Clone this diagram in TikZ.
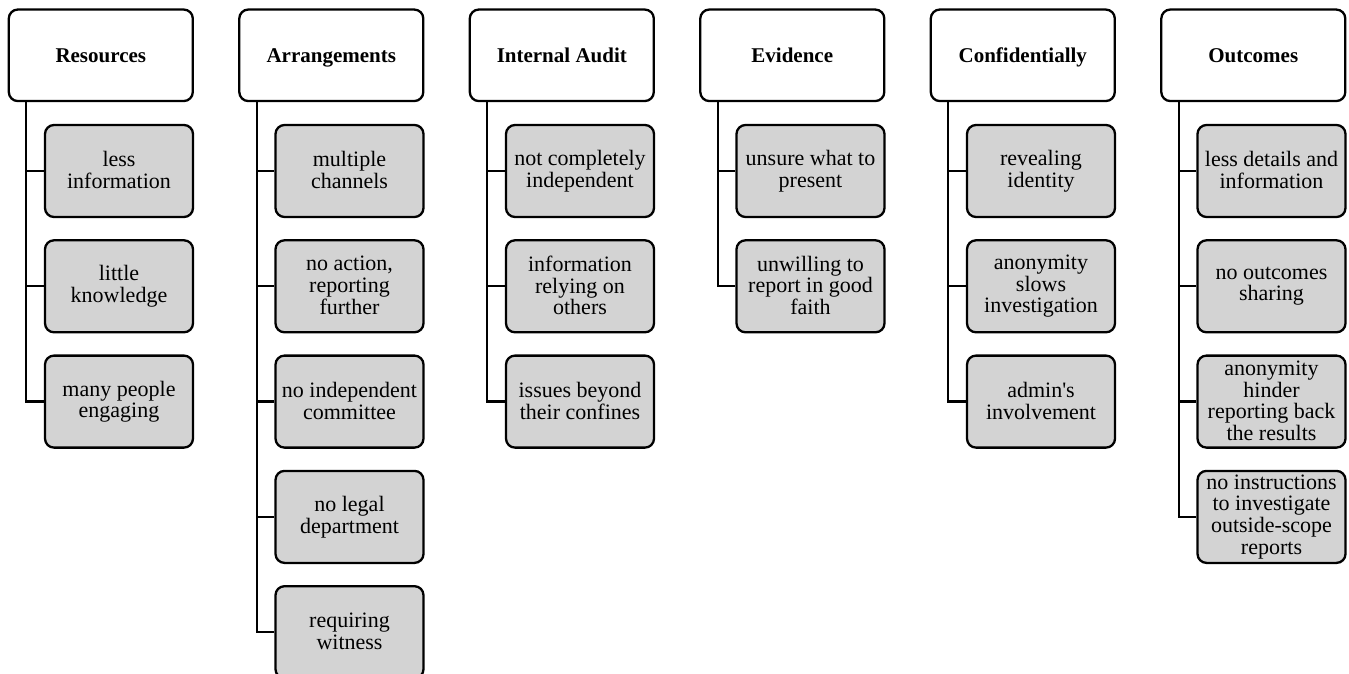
\documentclass[tikz,border=0pt]{standalone}
\usepackage{fontspec}
\setmainfont{Liberation Serif}
\usetikzlibrary{calc}
\definecolor{boxgray}{HTML}{D3D3D3}
% invisible rules that fix the top of the first line and the bottom of the last
\newcommand{\topprop}{\rule{0pt}{15pt}}
\newcommand{\botprop}{\rule[-2pt]{0pt}{2pt}}
\tikzset{
  boxbase/.style={draw=black, line width=2.3pt, rounded corners=9pt,
    inner sep=0pt, align=center},
  head/.style={boxbase, fill=white,
    minimum width=184pt, minimum height=91.5pt,
    text height=14pt, text depth=0pt,
    font=\fontsize{21}{22}\selectfont\bfseries},
  item/.style={boxbase, fill=boxgray,
    minimum width=148pt, minimum height=92pt,
    execute at begin node=\topprop, execute at end node=\botprop,
    font=\fontsize{22}{21.7}\selectfont},
  link/.style={draw=black, line width=2.3pt}
}
\begin{document}
\begin{tikzpicture}[x=1pt,y=-1pt]
\useasboundingbox (0,0) rectangle (1349,674);

% column headers
\node[head] (h0) at (100.8,55.3) {Resources};
\node[head] (h1) at (331.3,55.3) {Arrangements};
\node[head] (h2) at (561.8,55.3) {Internal Audit};
\node[head] (h3) at (792.3,55.3) {Evidence};
\node[head] (h4) at (1022.8,55.3) {Confidentially};
\node[head] (h5) at (1253.3,55.3) {Outcomes};

% trunk start points under each header
\foreach \i in {0,...,5} {
  \coordinate (t\i) at ($(h\i.south west)+(18.6,0)$);
}

% Resources
\node[item] (c00) at (119,171)   {less\\information};
\node[item] (c01) at (119,286.3) {little\\knowledge};
\node[item] (c02) at (119,401.6) {many people\\engaging};

% Arrangements
\node[item] (c10) at (349.5,171)   {multiple\\channels};
\node[item] (c11) at (349.5,286.3) {no action,\\reporting\\further};
\node[item] (c12) at (349.5,401.6) {no independent\\committee};
\node[item] (c13) at (349.5,516.9) {no legal\\department};
\node[item] (c14) at (349.5,632.2) {requiring\\witness};

% Internal Audit
\node[item] (c20) at (580,171)   {not completely\\independent};
\node[item] (c21) at (580,286.3) {information\\relying on\\others};
\node[item] (c22) at (580,401.6) {issues beyond\\their confines};

% Evidence
\node[item] (c30) at (810.5,171)   {unsure what to\\present};
\node[item] (c31) at (810.5,286.3) {unwilling to\\report in good\\faith};

% Confidentially
\node[item] (c40) at (1041,171)   {revealing\\identity};
\node[item] (c41) at (1041,286.3) {anonymity\\slows\\investigation};
\node[item] (c42) at (1041,401.6) {admin\textquotesingle s\\involvement};

% Outcomes
\node[item] (c50) at (1271.5,171)   {less details and\\information};
\node[item] (c51) at (1271.5,286.3) {no outcomes\\sharing};
\node[item] (c52) at (1271.5,401.6) {anonymity\\hinder\\reporting back\\the results};
\node[item] (c53) at (1271.5,516.9) {no instructions\\to investigate\\outside-scope\\reports};

% connectors: trunk down, then across to each item
\foreach \c/\k in {0/2,1/4,2/2,3/1,4/2,5/3} {
  \foreach \j in {0,...,\k} {
    \draw[link] (t\c) |- (c\c\j.west);
  }
}
\end{tikzpicture}
\end{document}
